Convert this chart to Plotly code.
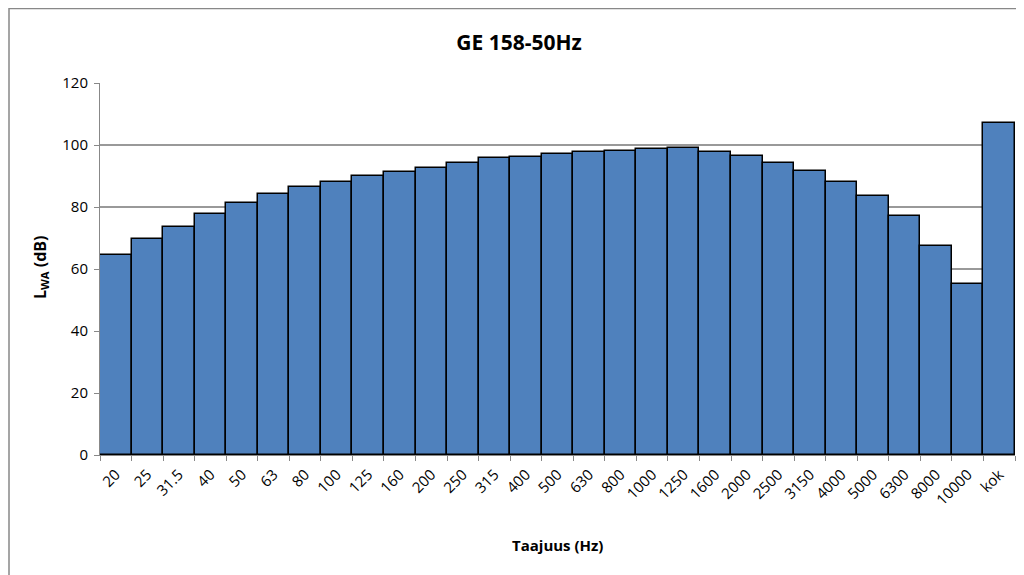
import plotly.graph_objects as go

categories = ["20", "25", "31.5", "40", "50", "63", "80", "100", "125", "160",
              "200", "250", "315", "400", "500", "630", "800", "1000", "1250", "1600",
              "2000", "2500", "3150", "4000", "5000", "6300", "8000", "10000", "kok"]
lwa_values = [64.5, 69.8, 73.6, 77.8, 81.3, 84.1, 86.4, 88.1, 89.9, 91.3,
              92.5, 94.2, 95.8, 96.1, 97.1, 97.6, 98.1, 98.7, 99.0, 97.7,
              96.5, 94.3, 91.6, 88.1, 83.5, 77.2, 67.5, 55.3, 107.2]
y_ticks = [0, 20, 40, 60, 80, 100, 120]

font_family = "Open Sans, Liberation Sans, sans-serif"

# the page body has an 8px margin; compensate so the plot lands where the reference has it
OFF = 8
W, H = 1024 - OFF, 575 - OFF
L, R, T, B = 100 - OFF, 9, 83 - OFF, 120
PW, PH = W - L - R, H - T - B

fig = go.Figure(go.Bar(
    x=categories, y=lwa_values,
    marker=dict(color="#4F81BD", line=dict(color="#000000", width=1.5)),
))

fig.update_layout(
    width=W, height=H,
    margin=dict(l=L, r=R, t=T, b=B, autoexpand=False),
    paper_bgcolor="white", plot_bgcolor="white",
    bargap=0,
    showlegend=False,
    font=dict(family=font_family, color="#000000"),
    title=dict(text="<b>GE 158-50Hz</b>", x=(519 - OFF) / W, xanchor="center",
               y=1 - (43 - OFF) / H, yanchor="middle",
               font=dict(size=21, family=font_family)),
    xaxis=dict(
        type="category", tickangle=-45, tickfont=dict(size=15),
        ticks="outside", tickson="boundaries", ticklen=5, tickcolor="#888888",
        ticklabelstandoff=4,
        showline=True, linecolor="#888888", linewidth=1,
        showgrid=False, automargin=False,
    ),
    yaxis=dict(
        range=[0, 120], tickvals=y_ticks, tickfont=dict(size=15),
        ticks="outside", ticklen=5, tickcolor="#888888",
        ticklabelstandoff=3,
        showline=True, linecolor="#888888", linewidth=1,
        showgrid=True, gridcolor="#999999", gridwidth=1.5,
        zeroline=False, automargin=False,
    ),
    annotations=[
        dict(text="<b>Taajuus (Hz)</b>", xref="paper", yref="paper",
             x=(557 - 100) / PW, y=-(545 - 455) / PH, xanchor="center", yanchor="middle",
             showarrow=False, font=dict(size=15)),
        dict(text="<b>L<sub>WA</sub> (dB)</b>", xref="paper", yref="paper",
             x=-(100 - 40) / PW, y=(455 - 268) / PH, xanchor="center", yanchor="middle",
             textangle=-90, showarrow=False, font=dict(size=16)),
    ],
    shapes=[dict(type="rect", xref="paper", yref="paper",
                 x0=-(L - 1) / PW, x1=1.02, y0=-0.5, y1=1 + (T - 0.5) / PH,
                 line=dict(color="#888888", width=1.5), fillcolor="rgba(0,0,0,0)",
                 layer="below")],
)

fig.write_html("out.html")
